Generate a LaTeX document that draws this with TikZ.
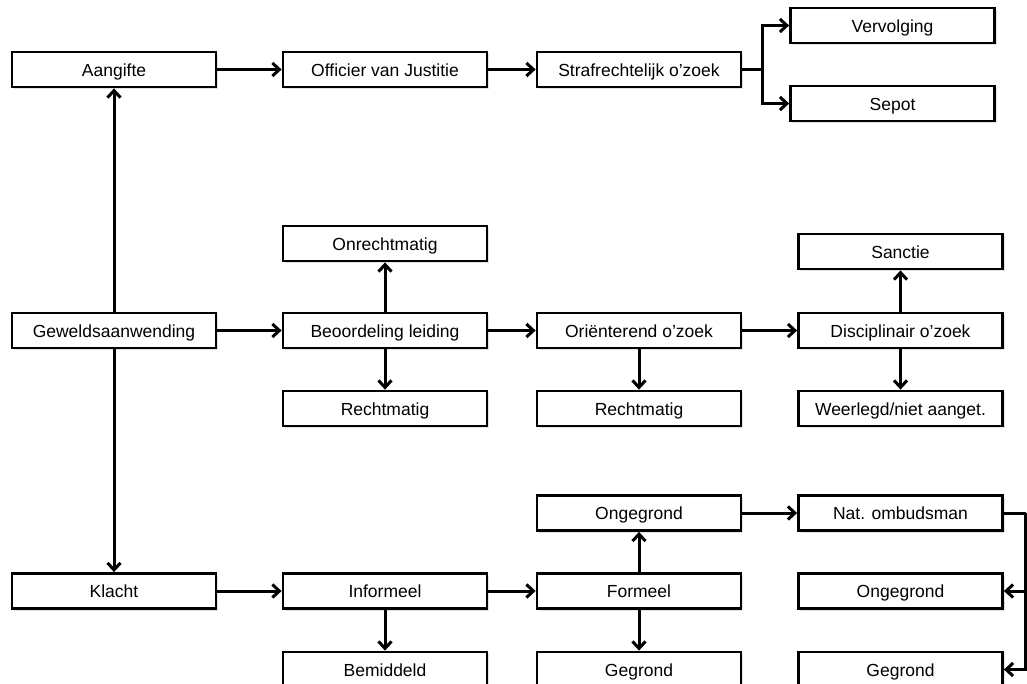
\documentclass[tikz,border=0pt]{standalone}
\usepackage{fontspec}
\setmainfont{Liberation Sans}
\usetikzlibrary{arrows.meta,shadows}
\begin{document}
\begin{tikzpicture}[x=1pt,y=-1pt,
  box/.style={draw,line width=2.8pt,fill=white,minimum width=204pt,minimum height=35pt,inner sep=0pt,
    text height=13pt,text depth=0pt,
    font=\fontsize{17.5}{20}\selectfont,
    drop shadow={opacity=0.22,shadow xshift=2pt,shadow yshift=-2pt}},
  conn/.style={line width=3pt,-{Straight Barb[length=7pt,width=13pt]}},
  wire/.style={line width=3pt}]
\useasboundingbox (0,0) rectangle (1027,683);
\clip (0,0) rectangle (1027,683);
% top row
\node[box] (aang) at (114,69.5) {Aangifte};
\node[box] (offi) at (385,69.5) {Officier van Justitie};
\node[box] (straf) at (639,69.5) {Strafrechtelijk o’zoek};
\node[box] (verv) at (892.5,25.5) {Vervolging};
\node[box] (sepot) at (892.5,103.5) {Sepot};
% middle row
\node[box] (gew) at (114,330.5) {Geweldsaanwending};
\node[box] (beoor) at (385,330.5) {Beoordeling leiding};
\node[box] (onr) at (385,243.5) {Onrechtmatig};
\node[box] (rm1) at (385,408.5) {Rechtmatig};
\node[box] (orient) at (639,330.5) {Oriënterend o’zoek};
\node[box] (rm2) at (639,408.5) {Rechtmatig};
\node[box] (disc) at (900.5,330.5) {Disciplinair o'zoek};
\node[box] (sanc) at (900.5,251.5) {Sanctie};
\node[box] (weer) at (900.5,408.5) {Weerlegd/niet aanget.};
% bottom row
\node[box] (klacht) at (114,591) {Klacht};
\node[box] (inf) at (385,591) {Informeel};
\node[box] (form) at (639,591) {Formeel};
\node[box] (ong) at (639,513) {Ongegrond};
\node[box] (nat) at (900.5,513) {Nat. ombudsman};
\node[box] (ong2) at (900.5,591) {Ongegrond};
\node[box] (bem) at (385,669.5) {Bemiddeld};
\node[box] (geg) at (639,669.5) {Gegrond};
\node[box] (geg2) at (900.5,669.5) {Gegrond};
% connectors top
\draw[conn] (aang) -- (offi);
\draw[conn] (offi) -- (straf);
\coordinate (br) at (762,69.5);
\draw[wire] (straf.east) -- (br);
\draw[conn] (br) |- (verv.west);
\draw[conn] (br) |- (sepot.west);
% vertical spine
\draw[conn] (gew.north) -- (aang.south);
\draw[conn] (gew.south) -- (klacht.north);
% middle
\draw[conn] (gew) -- (beoor);
\draw[conn] (beoor) -- (onr);
\draw[conn] (beoor) -- (rm1);
\draw[conn] (beoor) -- (orient);
\draw[conn] (orient) -- (rm2);
\draw[conn] (orient) -- (disc);
\draw[conn] (disc) -- (sanc);
\draw[conn] (disc) -- (weer);
% bottom
\draw[conn] (klacht) -- (inf);
\draw[conn] (inf) -- (bem);
\draw[conn] (inf) -- (form);
\draw[conn] (form) -- (ong);
\draw[conn] (form) -- (geg);
\draw[conn] (ong) -- (nat);
\coordinate (rc) at (1025.5,513);
\draw[wire] (nat.east) -- (rc);
\draw[conn] (rc) |- (ong2.east);
\draw[conn] (rc) |- (geg2.east);
\end{tikzpicture}
\end{document}
